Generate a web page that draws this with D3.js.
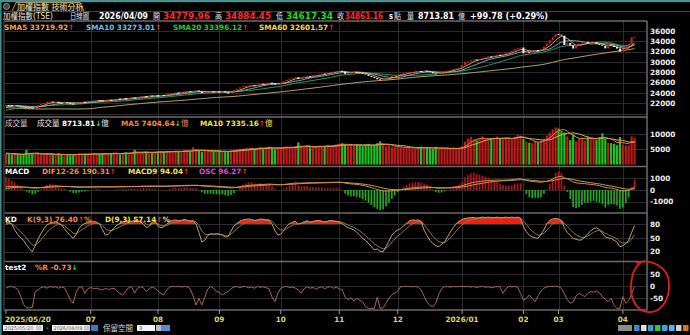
<!DOCTYPE html>
<html>
<head>
<meta charset="utf-8">
<script src="https://cdn.jsdelivr.net/npm/d3@7"></script>
<style>
  body { margin: 0; background: #000; overflow: hidden; }
  svg { display: block; font-family: "DejaVu Sans", "Noto Sans CJK TC", sans-serif; }
</style>
</head>
<body>
<svg id="chart" width="690" height="335"></svg>
<script>
// ---- data (TAIEX daily, 2025/05/20 - 2026/04/09) ----

// closes before the visible window, only used to warm up the moving averages
const leadCloses = [
  23700, 23730, 23400, 23300, 23050, 22850,
  22600, 22380, 22200, 22400, 22550, 22100, 22000, 21700, 21750, 21970, 22000,
  22100, 22200, 22150, 22200, 22300, 22450, 22200, 22000, 21600, 21300,
  21300, 21000, 19230, 18460, 17390, 19000, 19530, 19700, 19750, 19600,
  19450, 19500, 19300, 19200, 19600, 19800, 20000, 20200, 20250, 20250,
  20500, 20300, 20600, 20700, 20800, 20900, 21200, 21600, 21500, 21300, 21450, 21400
];

const closes = [
  // 2025/05
  21680, 21620, 21500, 21560, 21420, 21380, 21250, 21200,
  // 06
  21150, 21080, 21350, 21650, 21900, 22050, 22250, 22350, 22150, 22250, 22100,
  22000, 22180, 22050, 21950, 21900, 22050, 22200, 22300, 22250, 22400,
  // 07
  22450, 22500, 22600, 22550, 22480, 22600, 22700, 22650, 22750, 22900, 22850, 23000,
  22950, 23050, 23150, 23100, 23250, 23300, 23400, 23350, 23500, 23450, 23550,
  // 08
  23400, 23600, 23550, 23750, 23900, 24000, 24100, 23950, 24150, 24300, 24350,
  24250, 24400, 24450, 24300, 24000, 24100, 24250, 24300, 24200, 24250,
  // 09
  24200, 24300, 24100, 24050, 24250, 24550, 24800, 25100, 25300, 25350, 25450,
  25500, 25400, 25600, 25800, 25700, 25900, 26000, 25850, 25650, 25750,
  // 10
  26000, 26300, 26550, 26800, 26950, 27050, 26700, 26900, 27150, 27300,
  27200, 27400, 27500, 27600, 27750, 27700, 27900, 28050, 28150, 28250,
  // 11
  28300, 28150, 27700, 27850, 27950, 28100, 28000, 27900, 27750, 27600,
  27300, 27100, 26900, 26650, 26500, 26600, 26900, 27100, 27300, 27400,
  // 12
  27550, 27700, 27850, 27950, 28050, 28100, 28200, 28250, 28150, 28300, 28200,
  28050, 27800, 27700, 27850, 28000, 28200, 28350, 28500, 28650, 28750, 28900,
  // 2026/01
  29400, 30000, 30100, 30350, 30500, 30400, 30650, 30800, 30950, 31100, 31050,
  31250, 31400, 31350, 31550, 31700, 31900, 32200, 32500, 32700, 32800,
  // 02
  31700, 31900, 31800, 32100, 32300, 32200, 32500, 33000, 33600, 34200, 34800, 35400,
  // 03
  35300, 35100, 33300, 33700, 33200, 32600, 33300, 33600, 33800, 33900, 33600,
  33800, 33800, 33500, 33400, 33150, 32640, 33400, 33200, 32900, 32600, 32008,
  // 04
  32500, 33000, 33500, 34761.38, 34861.16
];

// turnover, 億
const leadVolumes = [3900, 4200, 3600, 3800, 4100, 3500, 3700, 3400, 3600];

const volumes = [
  3600, 3400, 3200, 3500, 3300, 3100, 3400, 4800,
  3700, 3500, 3300, 3600, 3400, 3200, 3500, 3300, 3100, 3400, 3600,
  3200, 3000, 3300, 3500, 3100, 3400, 3600, 3300, 3500, 3400,
  3500, 3700, 3400, 3300, 3600, 3800, 3500, 3700, 3900, 3600, 3400, 3800,
  4000, 3700, 3900, 4800, 4100, 3800, 3900, 4200, 4000, 3900, 4100,
  4200, 4400, 4100, 4500, 4300, 4000, 4600, 4400, 4200, 4700, 4500,
  4300, 5700, 4800, 4500, 4200, 4400, 4600, 4300, 4100, 4400,
  4300, 4100, 4500, 4200, 4600, 4800, 5000, 5200, 4900, 5300, 5100,
  5500, 5000, 5400, 5800, 5200, 5600, 5900, 5300, 5000, 5400,
  5500, 5800, 6000, 5600, 5400, 5900, 7300, 5800, 5600, 6000,
  5700, 5500, 5900, 6200, 5800, 6100, 6400, 6000, 6300, 6600,
  6800, 7000, 6500, 6200, 6400, 6100, 6600, 6300, 6000, 6500,
  6800, 6200, 6400, 7000, 7600, 6500, 6000, 6200, 5800, 5700,
  5600, 5800, 5500, 5400, 5700, 5300, 5200, 5500, 5900, 5400, 5600,
  5300, 5100, 5800, 5200, 5400, 5000, 5300, 5100, 5500, 5200, 5400,
  6000, 7500, 8500, 9100, 8200, 8000, 8600, 9200, 8300, 8100, 8400,
  8800, 9200, 8500, 8300, 8600, 8700, 8500, 9000, 9700, 9500,
  8400, 7500, 7200, 7000, 7600, 7300, 7800, 8500, 9500, 10500, 11500, 12150,
  11800, 11000, 10500, 9200, 8000, 9800, 7600, 8500, 8800, 7900, 9100,
  8300, 8700, 8000, 9000, 10200, 8400, 7200, 7000, 6800, 6338, 9000,
  6500, 6300, 6300, 9200, 8713.81
];

// KD(9,3)
const kValues = [
  83, 84, 80, 67, 58, 50, 45, 35,
  27, 20, 33, 48, 59, 70, 78, 81, 84, 85, 82, 78, 70, 62, 55, 49, 58, 70, 78, 81, 84,
  85, 86, 84, 80, 68, 56, 58, 65, 72, 78, 81, 84, 86, 87, 86, 88, 87, 85, 80, 72, 75, 84, 86,
  76, 72, 74, 80, 86, 88, 89, 87, 88, 90, 88, 86, 87, 80, 62, 41, 45, 55, 59, 58, 59,
  58, 56, 52, 53, 65, 76, 81, 86, 89, 90, 91, 90, 88, 89, 91, 90, 89, 88, 80, 66, 56,
  58, 66, 75, 81, 84, 86, 80, 82, 85, 87, 84, 86, 87, 88, 86, 84, 86, 88, 87, 86,
  84, 81, 76, 72, 70, 67, 62, 56, 49, 45, 38, 31, 24, 26, 21, 20, 31, 43, 56, 63,
  67, 70, 76, 81, 87, 89, 88, 89, 86, 67, 55, 45, 38, 33, 31, 36, 41, 52, 63, 72, 81, 86,
  90, 92, 93, 94, 94, 93, 94, 95, 94, 95, 93, 94, 95, 93, 94, 95, 94, 95, 94, 95, 92,
  75, 63, 56, 52, 50, 49, 58, 67, 81, 88, 91, 92,
  91, 88, 72, 62, 55, 49, 47, 45, 46, 52, 59, 65, 70, 72, 68, 60, 52, 50, 49, 45, 41, 31,
  33, 38, 45, 62, 76.40
];
const dValues = [
  79, 81, 81, 76, 70, 63, 57, 50,
  42, 35, 34, 39, 46, 54, 62, 68, 73, 77, 79, 79, 76, 71, 66, 60, 59, 63, 68, 72, 76,
  79, 81, 82, 81, 77, 70, 66, 66, 68, 71, 74, 77, 80, 82, 83, 85, 86, 86, 84, 80, 78, 80, 82,
  80, 77, 76, 77, 80, 83, 85, 86, 87, 88, 88, 87, 87, 85, 77, 65, 58, 57, 58, 58, 58,
  58, 57, 55, 54, 58, 64, 70, 75, 80, 83, 86, 87, 87, 88, 89, 89, 89, 89, 86, 79, 71,
  67, 67, 70, 74, 77, 80, 80, 81, 82, 84, 84, 85, 86, 86, 86, 85, 86, 86, 86, 86,
  85, 84, 81, 78, 75, 73, 69, 65, 60, 55, 49, 43, 37, 33, 29, 26, 28, 33, 41, 48,
  54, 59, 65, 70, 76, 80, 83, 85, 85, 79, 71, 62, 54, 47, 42, 40, 40, 44, 50, 57, 65, 72,
  78, 83, 86, 89, 91, 91, 92, 93, 93, 94, 94, 94, 94, 94, 94, 94, 94, 94, 94, 94, 93,
  87, 79, 71, 65, 60, 56, 57, 60, 67, 74, 80, 84,
  86, 87, 82, 75, 68, 62, 57, 53, 51, 51, 54, 58, 62, 65, 66, 64, 60, 57, 54, 51, 48, 42,
  39, 39, 41, 48, 57.14
];
// test2 %R
const wrValues = [
  -8, -2, -1, -5, -12, -40, -75, -90,
  -90, -88, -22, -15, -5, -2, -8, -1, -4, -2, -8, -3, -6, -30, -55, -71, -25, -4, -2, -29, -10,
  -5, -10, -8, -12, -15, -9, -13, -10, -8, -20, -30, -36, -20, -5, -1, -29, -8, -2, -6, -22, -10, -4, -8,
  -20, -30, -36, -15, -3, -1, -2, -0.5, -3, -1, -2, -10, -40, -78, -50, -78, -45, -12, -1, -8, -22,
  -25, -36, -28, -22, -10, -3, -1, -5, -2, -1, -6, -3, -8, -1, -4, -2, -6, -10, -45, -64, -30,
  -8, -2, -1, -5, -3, -8, -15, -29, -10, -2, -8, -4, -12, -6, -2, -10, -5, -1, -8, -4,
  -10, -15, -45, -55, -48, -62, -50, -58, -65, -85, -92, -92, -92, -45, -92, -90, -70, -50, -35, -29,
  -20, -2, -1, 0, -1, -2, -1, -3, -15, -40, -65, -80, -85, -70, -35, -10, -2, -1, -3, -1, -2, -1,
  0, -2, -1, -3, -1, -5, -2, -1, -4, -2, -6, -3, -1, -2, -29, -10, -1, -2, -1, -3, -30,
  -57, -50, -36, -50, -64, -40, -20, -8, -3, 0, -1, 0,
  -2, -8, -30, -55, -71, -65, -40, -29, -36, -43, -30, -22, -25, -20, -28, -43, -55, -64, -50, -80, -92, -92,
  -43, -71, -60, -30, -0.73
];

const monthDays   = [8, 21, 23, 21, 21, 20, 20, 22, 21, 12, 22, 5];
const monthLabels = ["2025/05/20", "", "07", "08", "09", "10", "11", "12", "2026/01", "02", "03", "04"];

const priceTicks = [22000, 24000, 26000, 28000, 30000, 32000, 34000, 36000];
const priceGrid  = [20000, 22000, 24000, 26000, 28000, 30000, 32000, 34000, 36000];
const volTicks   = [5000, 10000];
const macdTicks  = [-1000, 0, 1000];
const kdTicks    = [20, 50, 80];
const wrTicks    = [-50, 0, 50];

// ---- indicators ----
const allC = leadCloses.concat(closes);
const allV = leadVolumes.concat(volumes);
const offC = leadCloses.length, offV = leadVolumes.length;
const n = closes.length;

function sma(arr, p, off) {
  return d3.range(n).map(i => {
    const j = i + off;
    return d3.mean(arr.slice(Math.max(0, j - p + 1), j + 1));
  });
}
function ema(arr, p) {
  const a = 2 / (p + 1);
  let e = arr[0];
  return arr.map(v => (e = e + a * (v - e)));
}

const ma5 = sma(allC, 5, offC), ma10 = sma(allC, 10, offC),
      ma20 = sma(allC, 20, offC), ma60 = sma(allC, 60, offC);
const vma5 = sma(allV, 5, offV), vma10 = sma(allV, 10, offV);

const e12 = ema(allC, 12), e26 = ema(allC, 26);
const difAll = e12.map((v, i) => v - e26[i]);
const macdAll = ema(difAll, 9);
const dif = difAll.slice(offC), macd9 = macdAll.slice(offC);
const osc = dif.map((v, i) => v - macd9[i]);

// ---- layout ----
const svg = d3.select("#chart");
const L = 4, R = 647;
const P = {
  price: [21, 117], vol: [117, 166.5], macd: [166.5, 213], kd: [213, 261.5], wr: [261.5, 310]
};

const x = d3.scaleBand().domain(d3.range(n)).range([4.5, 636]);
const cx = i => x(i) + x.bandwidth() / 2;

const yP = d3.scaleLinear().domain([22000, 36000]).range([103.3, 31]);
const yV = d3.scaleLinear().domain([0, 10000]).range([164.6, 134]);
const yM = d3.scaleLinear().domain([-1000, 1000]).range([201.7, 178.3]);
const oscMax = d3.max(osc, d => Math.abs(d));
const yO = d3.scaleLinear().domain([-oscMax, oscMax]).range([210, 170]);
const yK = d3.scaleLinear().domain([0, 100]).range([261, 214.8]);
const yW = d3.scaleLinear().domain([-50, 50]).range([298.3, 274.3]);

svg.append("rect").attr("width", 690).attr("height", 335).attr("fill", "#000");

// month starts
const starts = [];
monthDays.reduce((s, d) => { starts.push(s); return s + d; }, 0);

// grid
const grid = svg.append("g").attr("stroke", "#2c2c2c").attr("stroke-width", 1);
starts.forEach((s, k) => {
  if (k === 0 || !monthLabels[k]) return;
  grid.append("line").attr("x1", Math.round(cx(s)) + 0.5).attr("x2", Math.round(cx(s)) + 0.5)
    .attr("y1", P.price[0]).attr("y2", P.wr[1]);
});
function hgrid(vals, scale) {
  vals.forEach(v => grid.append("line").attr("x1", L).attr("x2", R)
    .attr("y1", Math.round(scale(v)) + 0.5).attr("y2", Math.round(scale(v)) + 0.5));
}
hgrid(priceGrid, yP); hgrid(volTicks, yV); hgrid(macdTicks, yM);
hgrid(kdTicks, yK); hgrid(wrTicks, yW);

// ---- price panel ----
const line = (arr, ys) => d3.line().x((d, i) => cx(i)).y(d => ys(d))(arr);
[[ma60, "#b4a56a"], [ma20, "#2f9e4f"], [ma10, "#6fa8d0"], [ma5, "#d9a35a"]].forEach(([a, c]) =>
  svg.append("path").attr("d", line(a, yP)).attr("fill", "none").attr("stroke", c).attr("stroke-width", 1));

const opens = closes.map((c, i) => i === 0 ? leadCloses[leadCloses.length - 1] : closes[i - 1]);
svg.append("g").selectAll("rect").data(closes).join("rect")
  .attr("x", (d, i) => cx(i) - 1)
  .attr("width", 2)
  .attr("y", (d, i) => yP(Math.max(d, opens[i])))
  .attr("height", (d, i) => Math.max(1, Math.abs(yP(d) - yP(opens[i]))))
  .attr("fill", (d, i) => d >= opens[i] ? "#d42222" : "#f4f4f4");

// ---- volume panel ----
svg.append("g").selectAll("rect").data(volumes).join("rect")
  .attr("x", (d, i) => cx(i) - 1.1)
  .attr("width", 2.2)
  .attr("y", d => yV(d))
  .attr("height", d => yV(0) - yV(d))
  .attr("fill", (d, i) => closes[i] >= opens[i] ? "#c01a1a" : "#22c022");
[[vma10, "#cdb45a"], [vma5, "#e8864a"]].forEach(([a, c]) =>
  svg.append("path").attr("d", line(a, yV)).attr("fill", "none").attr("stroke", c).attr("stroke-width", 1));

// ---- MACD panel ----
svg.append("g").selectAll("rect").data(osc).join("rect")
  .attr("x", (d, i) => cx(i) - 0.8)
  .attr("width", 1.6)
  .attr("y", d => Math.min(yO(d), yO(0)))
  .attr("height", d => Math.abs(yO(d) - yO(0)))
  .attr("fill", d => d >= 0 ? "#b81414" : "#1fb21f");
[[macd9, "#b8a070"], [dif, "#d88a48"]].forEach(([a, c]) =>
  svg.append("path").attr("d", line(a, yM)).attr("fill", "none").attr("stroke", c).attr("stroke-width", 1));

// ---- KD panel ----
svg.append("path").attr("fill", "#f02010")
  .attr("d", d3.area().x((d, i) => cx(i)).y0(yK(80)).y1(d => yK(Math.max(d, 80)))(kValues));
svg.append("path").attr("fill", "#30e030")
  .attr("d", d3.area().x((d, i) => cx(i)).y0(yK(20)).y1(d => yK(Math.min(d, 20)))(kValues));
[[dValues, "#8c7458"], [kValues, "#c4a070"]].forEach(([a, c]) =>
  svg.append("path").attr("d", line(a, yK)).attr("fill", "none").attr("stroke", c).attr("stroke-width", 1));

// ---- %R panel ----
svg.append("path").attr("d", line(wrValues, yW)).attr("fill", "none").attr("stroke", "#a8665a").attr("stroke-width", 1);

// ---- frames ----
const frame = svg.append("g").attr("stroke", "#6b6b6b").attr("stroke-width", 1.5);
[21, 117, 166.5, 213, 261.5, 310].forEach(y =>
  frame.append("line").attr("x1", L).attr("x2", R).attr("y1", y).attr("y2", y));
frame.append("line").attr("x1", R).attr("x2", R).attr("y1", 21).attr("y2", 310);
frame.append("line").attr("x1", L).attr("x2", L).attr("y1", 21).attr("y2", 310).attr("stroke", "#3a3a3a");
svg.append("rect").attr("x", 0).attr("y", 0).attr("width", 1.6).attr("height", 335).attr("fill", "#3d8b8b");

// right axes
function axisLabels(vals, scale) {
  vals.forEach(v => svg.append("text").attr("x", 650).attr("y", scale(v)).attr("dy", "0.36em")
    .attr("font-size", 7.3).attr("font-weight", "bold").attr("fill", "#ececec").text(v));
}
axisLabels(priceTicks, yP); axisLabels(volTicks, yV); axisLabels(macdTicks, yM);
axisLabels(kdTicks, yK); axisLabels(wrTicks, yW);

// x axis labels
starts.forEach((s, k) => {
  if (!monthLabels[k]) return;
  const xx = cx(s);
  svg.append("line").attr("x1", xx).attr("x2", xx).attr("y1", 310).attr("y2", 314)
    .attr("stroke", "#9a9a9a").attr("stroke-width", 1);
  svg.append("text").attr("x", k === 0 ? 5 : xx).attr("y", 322)
    .attr("text-anchor", k === 0 ? "start" : "middle")
    .attr("font-size", 7.3).attr("font-weight", "bold").attr("fill", "#d6d45c")
    .text(monthLabels[k]);
});

// ---- legend rows ----
const RED = "#ff2a2a", GRN = "#22dd22";
function label(xp, yp, parts, size) {
  const t = svg.append("text").attr("x", xp).attr("y", yp)
    .attr("font-size", size || 7.3).attr("font-weight", "bold");
  parts.forEach(p => {
    const s = t.append("tspan").attr("fill", p[1]).text(p[0]);
    if (p[2]) s.attr("font-weight", "normal").attr("font-size", p[2]);
  });
}
label(4, 29.5, [["SMA5 33719.92", "#f0a040"], ["↑", RED]]);
label(86, 29.5, [["SMA10 33273.01", "#7ab6e2"], ["↑", RED]]);
label(173, 29.5, [["SMA20 33396.12", "#22c832"], ["↑", RED]]);
label(259, 29.5, [["SMA60 32601.57", "#f0d844"], ["↑", RED]]);

label(5, 126, [["成交量", "#cfcfcf", 7.5]]);
label(37, 126, [["成交量 ", "#e8e8e8", 7.5], ["8713.81", "#ffffff"], ["↓", GRN], ["億", "#e8e8e8", 7.5]]);
label(121, 126, [["MA5 7404.64", "#f08a44"], ["↓", GRN], ["億", "#f08a44", 7.5]]);
label(200, 126, [["MA10 7335.16", "#f0e040"], ["↑", RED], ["億", "#f0e040", 7.5]]);

label(5, 173.5, [["MACD", "#ffffff"]]);
label(42, 173.5, [["DIF12-26 190.31", "#f08a44"], ["↑", RED]]);
label(128, 173.5, [["MACD9 94.04", "#f0e040"], ["↑", RED]]);
label(199, 173.5, [["OSC 96.27", "#e040e0"], ["↑", RED]]);

label(5, 221.5, [["KD", "#ffffff"]]);
label(27, 221.5, [["K(9,3) 76.40", "#f08a44"], ["↑", RED], ["%", "#f08a44"]]);
label(105, 221.5, [["D(9,3) 57.14", "#f0e040"], ["↑", RED], ["%", "#f0e040"]]);

label(5, 269.5, [["test2", "#ffffff"]]);
label(35, 269.5, [["%R -0.73", "#f08a44"], ["↓", GRN]]);

// ---- header ----
svg.append("rect").attr("x", 0).attr("y", 0).attr("width", 690).attr("height", 2.2).attr("fill", "#4e8e8e");
svg.append("line").attr("x1", 0).attr("x2", 690).attr("y1", 11.5).attr("y2", 11.5).attr("stroke", "#2e4a4a");
svg.append("circle").attr("cx", 6.5).attr("cy", 6.5).attr("r", 3).attr("fill", "#444").attr("stroke", "#aaa").attr("stroke-width", 0.8);
svg.append("path").attr("d", "M12,11 L16,2.5 L80,2.5 L84,11").attr("fill", "#161006")
  .attr("stroke", "#c9a448").attr("stroke-width", 0.9);
svg.append("text").attr("x", 17).attr("y", 9.6).attr("font-size", 8).attr("fill", "#f2e6c2")
  .text("加權指數 技術分析");

// info row: [x, text, colour, width, bold]
const info = [
  [3, "加權指數(TSE)", "#e6e6e6", 50, false],
  [70, "日線圖", "#e6e6e6", 19, false],
  [99, "2026/04/09", "#ffffff", 49, true],
  [153, "開", "#e6e6e6", 7, false],
  [163, "34779.96", "#ff2a2a", 47, true],
  [215, "高", "#e6e6e6", 7, false],
  [225, "34884.45", "#ff2a2a", 46, true],
  [276, "低", "#e6e6e6", 7, false],
  [286, "34617.34", "#22dd22", 47, true],
  [337, "收", "#e6e6e6", 7, false],
  [345, "34861.16", "#ff2a2a", 38, true],
  [389, "s", "#ffffff", 4, true],
  [394, "點", "#e6e6e6", 7, false],
  [407, "量", "#e6e6e6", 7, false],
  [418, "8713.81", "#ffffff", 36, true],
  [458, "億", "#e6e6e6", 7, false],
  [470, "+99.78 (+0.29%)", "#ffffff", 78, true]
];
info.forEach(([xp, t, c, w, b]) =>
  svg.append("text").attr("x", xp).attr("y", 19.3)
    .attr("font-size", b ? 8.6 : 8).attr("font-weight", b ? "bold" : "normal")
    .attr("textLength", w).attr("lengthAdjust", "spacingAndGlyphs")
    .attr("fill", c).text(t));

// ---- bottom controls ----
const ctl = svg.append("g").attr("font-size", 5);
ctl.append("rect").attr("x", 3).attr("y", 325).attr("width", 40).attr("height", 6).attr("fill", "#f4f4f4");
ctl.append("rect").attr("x", 36).attr("y", 325.5).attr("width", 6).attr("height", 5).attr("fill", "#c8c8c8");
ctl.append("text").attr("x", 4.5).attr("y", 329.8).attr("fill", "#555").text("2025/05/20");
ctl.append("text").attr("x", 46).attr("y", 330).attr("fill", "#ddd").attr("font-size", 7).text("-");
ctl.append("rect").attr("x", 52).attr("y", 325).attr("width", 38).attr("height", 6).attr("fill", "#f4f4f4");
ctl.append("rect").attr("x", 84).attr("y", 325.5).attr("width", 6).attr("height", 5).attr("fill", "#c8c8c8");
ctl.append("text").attr("x", 53.5).attr("y", 329.8).attr("fill", "#555").text("2026/04/09");
ctl.append("rect").attr("x", 91).attr("y", 325).attr("width", 7).attr("height", 6).attr("fill", "#3a78c8");
ctl.append("text").attr("x", 103).attr("y", 331).attr("fill", "#d8d8d8").attr("font-size", 7.5).text("保留空間");
ctl.append("rect").attr("x", 137).attr("y", 325).attr("width", 18).attr("height", 6).attr("fill", "#f4f4f4");
ctl.append("text").attr("x", 139).attr("y", 329.8).attr("fill", "#444").text("3");
ctl.append("rect").attr("x", 156).attr("y", 325).attr("width", 5).attr("height", 6).attr("fill", "#bdbdbd");
ctl.append("rect").attr("x", 161).attr("y", 325).attr("width", 9).attr("height", 6).attr("fill", "#5a8ad8");
ctl.append("rect").attr("x", 618).attr("y", 325).attr("width", 14).attr("height", 6).attr("fill", "#8a8a8a");
["#3a8ad0", "#e0e0e0", "#30a0d0", "#40c040", "#40a0e0", "#60b0f0", "#d0d0d0", "#e07020"].forEach((c, i) =>
  ctl.append("rect").attr("x", 634 + i * 7).attr("y", 325).attr("width", 5.5).attr("height", 6).attr("fill", c));

// ---- hand-drawn red ring around the %R axis ----
svg.append("path")
  .attr("d", "M636,263 C650,258 668,266 669,283 C670,300 661,313 648,312 C636,311 630,298 631,285 C632,274 634,268 641,262")
  .attr("fill", "none").attr("stroke", "#e41c1c").attr("stroke-width", 1.8);
</script>
</body>
</html>
